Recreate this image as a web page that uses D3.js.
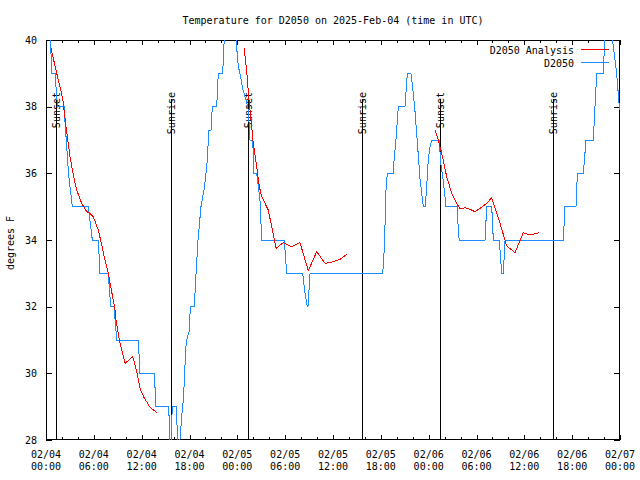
<!DOCTYPE html>
<html>
<head>
<meta charset="utf-8">
<script src="https://cdn.jsdelivr.net/npm/d3@7"></script>
<style>
  html, body { margin: 0; padding: 0; background: #ffffff; }
  svg { display: block; }
  text { font-family: "DejaVu Sans Mono", "Liberation Mono", monospace; font-size: 10px; fill: #000; }
</style>
</head>
<body>
<svg id="chart" width="640" height="480"></svg>
<script>
// ---- data (times are hours since 2025-02-04 00:00 UTC) ----
const titleText = "Temperature for D2050 on 2025-Feb-04 (time in UTC)";
const yLabel = "degrees F";
const yTicks = [28, 30, 32, 34, 36, 38, 40];
const xTickHours = [0, 6, 12, 18, 24, 30, 36, 42, 48, 54, 60, 66, 72];
const xTickDates = ["02/04","02/04","02/04","02/04","02/05","02/05","02/05","02/05","02/06","02/06","02/06","02/06","02/07"];
const xTickTimes = ["00:00","06:00","12:00","18:00","00:00","06:00","12:00","18:00","00:00","06:00","12:00","18:00","00:00"];
const xMinorHours = [2,4,8,10,14,16,20,22,26,28,32,34,38,40,44,46,50,52,56,58,62,64,68,70];

const sunHours  = [1.25, 15.62, 25.40, 39.68, 49.42, 63.63];
const sunLabels = ["Sunset","Sunrise","Sunset","Sunrise","Sunset","Sunrise"];

const obsHours = [0.44,0.72,0.75,1.13,1.44,2.26,2.82,3.30,5.31,5.81,6.56,6.77,7.81,8.12,8.53,8.87,11.58,11.79,13.58,13.80,15.39,15.62,15.84,16.34,16.60,16.68,17.02,17.22,17.35,17.52,17.65,17.94,18.06,18.10,18.60,18.82,19.07,19.44,19.82,20.07,20.19,20.45,20.70,20.86,21.41,21.61,22.16,22.39,23.77,24.12,24.33,24.71,25.09,25.38,25.59,25.93,26.09,26.43,26.84,27.06,29.89,30.19,32.20,32.49,32.78,32.86,33.12,42.24,42.44,42.65,42.81,43.56,43.69,43.90,44.19,45.03,45.32,45.78,46.07,46.29,46.62,46.91,47.13,47.33,47.58,47.75,47.95,48.17,48.38,49.33,49.51,49.84,50.05,50.17,51.59,51.72,51.84,55.07,55.28,55.91,56.11,56.86,57.16,57.36,57.58,64.89,65.10,66.48,66.65,67.40,67.74,68.65,68.86,69.08,69.90,70.12,70.96,71.58,71.91,72.0];
const obsTemps = [40.2,39.3,39,39,38,38,36,35,35,34,34,33,33,32,32,31,31,30,30,29,29,27.5,29,29,27.5,27.6,28.7,29.2,29.75,30.75,31,31.25,31.75,32,32,33,34,35,35.5,36,36.3,37.3,37.3,38,38,39,39,40.2,40.2,39.2,39,38.5,38.2,37.9,37,37,36,36,35.2,34,34,33,33,32.4,32,32,33,33,33.75,35.5,36,36,36.5,37,38,38,39,39,38.4,37.85,36.8,35.85,35.4,35,35,35.6,36.4,36.8,37,37,36.3,35.75,35.3,35,35,34.25,34,34,35,35,34,34,33,33,34,34,35,35,36,36,37,37,38,39,39,40.2,40.2,39,38,37.9];

const anaHours1 = [0.63,1.25,2.09,2.51,3.01,3.55,3.85,4.48,5.11,5.52,5.93,6.56,6.99,7.40,7.81,8.24,8.66,8.78,9.28,9.91,10.88,11.38,11.79,12.29,13.05,13.89];
const anaTemps1 = [39.75,39.1,38.25,37.4,36.5,35.8,35.5,35.1,34.85,34.8,34.7,34.3,33.85,33.4,33.0,32.45,31.9,31.6,30.9,30.3,30.5,30.05,29.55,29.28,28.98,28.83];
const anaHours2 = [24.84,25.17,25.46,25.68,26.00,26.43,26.76,27.06,27.47,27.88,28.31,28.85,29.77,30.82,31.86,32.90,33.96,35.00,36.04,36.88,37.79];
const anaTemps2 = [39.75,39.1,38.2,37.7,36.9,36.2,35.6,35.3,35.1,34.9,34.4,33.75,33.92,33.8,33.92,33.08,33.65,33.3,33.35,33.42,33.58];
const anaHours3 = [48.80,49.21,49.64,50.26,50.89,51.52,51.93,52.56,53.10,53.81,54.44,55.28,55.91,56.32,56.95,57.79,58.83,59.87,60.71,61.88];
const anaTemps3 = [37.3,37.0,36.6,35.9,35.4,35.1,34.93,34.97,34.93,34.85,34.95,35.1,35.27,34.95,34.5,33.82,33.62,34.22,34.15,34.22];

const seriesNames = ["D2050 Analysis", "D2050"];
const seriesColors = ["#ff0000", "#1a8cff"];

// ---- drawing ----
const t0 = Date.UTC(2025, 1, 4, 0, 0);
const toDate = h => new Date(t0 + h * 3600 * 1000);

const L = 46, R = 620, T = 40, B = 440;
const svg = d3.select("#chart");
const x = d3.scaleUtc().domain([toDate(0), toDate(72)]).range([L, R]);
const y = d3.scaleLinear().domain([28, 40]).range([B, T]);

svg.append("defs").append("clipPath").attr("id", "clip")
  .append("rect").attr("x", L).attr("y", T).attr("width", R - L).attr("height", B - T);

// title
svg.append("text").attr("x", 333).attr("y", 24).attr("text-anchor", "middle").text(titleText);

// y label
svg.append("text").attr("transform", "translate(14,243) rotate(-90)")
  .attr("text-anchor", "middle").text(yLabel);

// axes
const axG = svg.append("g").attr("shape-rendering", "crispEdges");
const yAxisL = d3.axisLeft(y).tickValues(yTicks).tickSize(-6).tickPadding(9).tickFormat(d3.format("d"));
const gL = axG.append("g").attr("transform", `translate(${L},0)`).call(yAxisL);
const gR = axG.append("g").attr("transform", `translate(${R},0)`)
  .call(d3.axisRight(y).tickValues(yTicks).tickSize(-6).tickFormat(""));
const majorDates = xTickHours.map(toDate);
const minorDates = xMinorHours.map(toDate);
const gB = axG.append("g").attr("transform", `translate(0,${B})`)
  .call(d3.axisBottom(x).tickValues(majorDates).tickSize(-5).tickFormat(""));
const gT = axG.append("g").attr("transform", `translate(0,${T})`)
  .call(d3.axisTop(x).tickValues(majorDates).tickSize(-5).tickFormat(""));
const gBm = axG.append("g").attr("transform", `translate(0,${B})`)
  .call(d3.axisBottom(x).tickValues(minorDates).tickSize(-3).tickFormat(""));
const gTm = axG.append("g").attr("transform", `translate(0,${T})`)
  .call(d3.axisTop(x).tickValues(minorDates).tickSize(-3).tickFormat(""));
[gL, gR, gB, gT, gBm, gTm].forEach(g => {
  g.select(".domain").remove();
  g.selectAll("line").attr("stroke", "#000");
  g.attr("font-family", null).attr("font-size", null);
});
gL.selectAll("text").attr("fill", "#000");

// x tick labels (two lines)
const xl = svg.append("g");
xTickHours.forEach((h, i) => {
  const t = xl.append("text").attr("text-anchor", "middle");
  t.append("tspan").attr("x", x(toDate(h))).attr("y", 458).text(xTickDates[i]);
  t.append("tspan").attr("x", x(toDate(h))).attr("y", 470).text(xTickTimes[i]);
});

// sunrise / sunset lines
const sg = svg.append("g");
sunHours.forEach((h, i) => {
  const xx = Math.round(x(toDate(h))) + 0.5;
  sg.append("line").attr("x1", xx).attr("x2", xx).attr("y1", 99).attr("y2", B)
    .attr("stroke", "#000").attr("stroke-width", 1).attr("shape-rendering", "crispEdges");
  sg.append("text").attr("transform", `translate(${xx},92) rotate(-90)`)
    .attr("text-anchor", "end").attr("dy", "0.35em").text(sunLabels[i]);
});

// data lines
const line = d3.line().x(d => x(toDate(d[0]))).y(d => y(d[1]));
const dg = svg.append("g").attr("clip-path", "url(#clip)").attr("shape-rendering", "crispEdges");
const obs = obsHours.map((h, i) => [h, obsTemps[i]]);
dg.append("path").attr("d", line(obs)).attr("fill", "none")
  .attr("stroke", seriesColors[1]).attr("stroke-width", 1);
[[anaHours1, anaTemps1], [anaHours2, anaTemps2], [anaHours3, anaTemps3]].forEach(([hs, ts]) => {
  dg.append("path").attr("d", line(hs.map((h, i) => [h, ts[i]]))).attr("fill", "none")
    .attr("stroke", seriesColors[0]).attr("stroke-width", 1);
});

// frame
axG.append("rect").attr("x", L + 0.5).attr("y", T + 0.5).attr("width", R - L - 1).attr("height", B - T - 1)
  .attr("fill", "none").attr("stroke", "#000");

// legend
const lg = svg.append("g");
[0, 1].forEach(i => {
  const ly = i === 0 ? 50 : 63;
  lg.append("text").attr("x", 574).attr("y", ly).attr("dy", "0.35em").attr("text-anchor", "end").text(seriesNames[i]);
  lg.append("line").attr("x1", 581).attr("x2", 609).attr("y1", ly - 0.5).attr("y2", ly - 0.5)
    .attr("stroke", seriesColors[i]).attr("stroke-width", 1).attr("shape-rendering", "crispEdges");
});
</script>
</body>
</html>
